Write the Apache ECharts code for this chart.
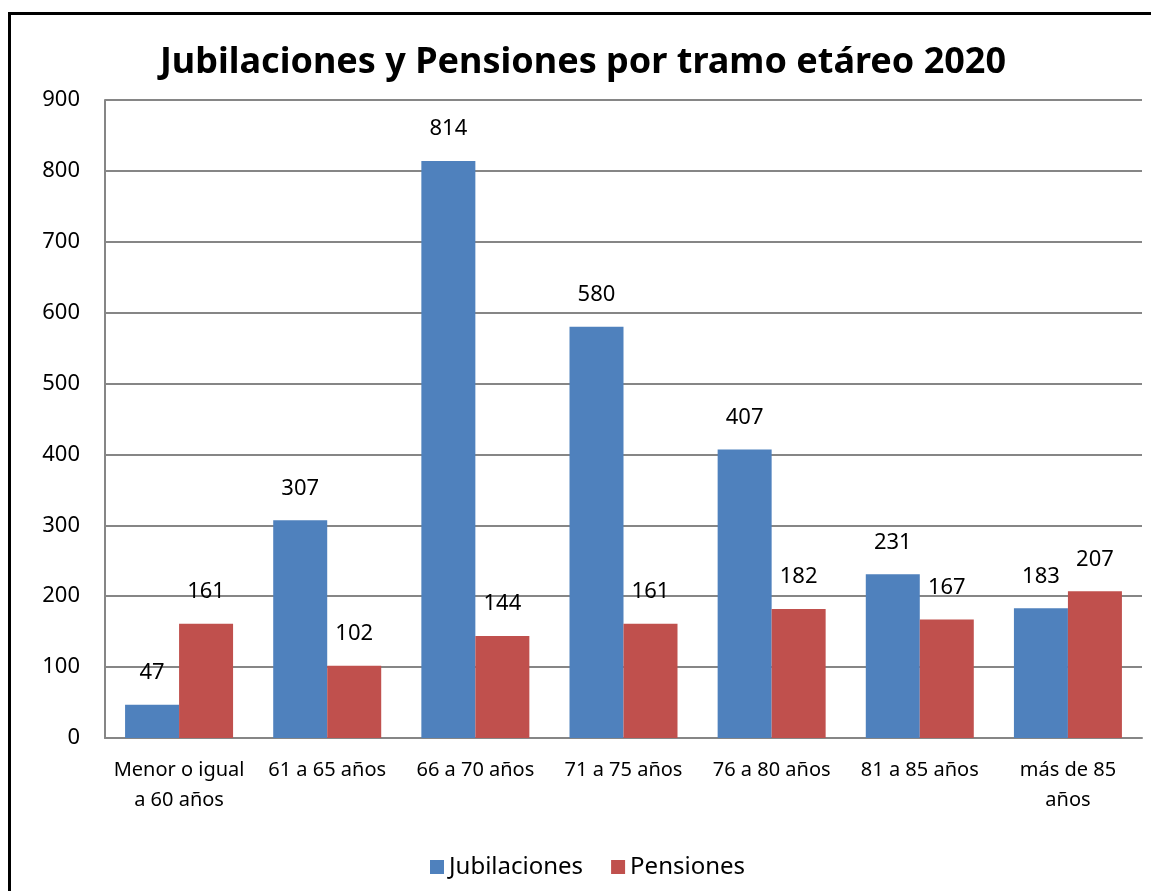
<!DOCTYPE html>
<html>
<head>
<meta charset="utf-8">
<script src="https://cdn.jsdelivr.net/npm/echarts@6/dist/echarts.min.js"></script>
<style>
  html, body { margin: 0; padding: 0; background: #fff; }
  #main { width: 1151px; height: 891px; }
</style>
</head>
<body>
<div id="main"></div>
<script>
// datos
const categorias = ['Menor o igual\na 60 años', '61 a 65 años', '66 a 70 años', '71 a 75 años', '76 a 80 años', '81 a 85 años', 'más de 85\naños']
const jubilaciones = [47, 307, 814, 580, 407, 231, 183]
const pensiones = [161, 102, 144, 161, 182, 167, 207]
const ticksY = [0, 100, 200, 300, 400, 500, 600, 700, 800, 900]

const fuente = 'Noto Sans'
const chart = echarts.init(document.getElementById('main'))

const etiqueta = {
  show: true,
  position: 'top',
  distance: 21,
  color: '#000',
  fontFamily: fuente,
  fontSize: 22
}

const option = {
  animation: false,
  textStyle: { fontFamily: fuente },
  // titulo y marco negro alrededor del grafico
  graphic: [
    {
      type: 'rect',
      shape: { x: 9.5, y: 13.5, width: 1160, height: 900 },
      style: { fill: 'none', stroke: '#000', lineWidth: 3 }
    },
    {
      type: 'text',
      x: 583,
      y: 63,
      style: {
        text: 'Jubilaciones y Pensiones por tramo etáreo 2020',
        fontFamily: fuente,
        fontSize: 36,
        fontWeight: 'bold',
        fill: '#000',
        align: 'center',
        verticalAlign: 'middle'
      }
    }
  ],
  legend: {
    bottom: 7,
    left: 425,
    itemWidth: 14,
    itemHeight: 14,
    itemGap: 28,
    icon: 'rect',
    textStyle: { fontFamily: fuente, fontSize: 24, color: '#000' },
    data: ['Jubilaciones', 'Pensiones']
  },
  grid: { left: 105, right: 9, top: 100, bottom: 153, containLabel: false },
  xAxis: {
    type: 'category',
    data: categorias,
    axisLine: { lineStyle: { color: '#868686', width: 2 } },
    axisTick: { show: false },
    axisLabel: { color: '#000', fontSize: 20, fontFamily: fuente, lineHeight: 30, margin: 17, interval: 0 }
  },
  yAxis: {
    type: 'value',
    min: ticksY[0],
    max: ticksY[ticksY.length - 1],
    interval: 100,
    axisLine: { show: true, lineStyle: { color: '#868686', width: 2 } },
    axisTick: { show: false },
    splitLine: { lineStyle: { color: '#868686', width: 2 } },
    axisLabel: { color: '#000', fontSize: 22, fontFamily: fuente, margin: 25 }
  },
  series: [
    {
      name: 'Jubilaciones',
      type: 'bar',
      data: jubilaciones,
      barWidth: 54,
      barGap: '0%',
      itemStyle: { color: '#4F81BD' },
      label: etiqueta
    },
    {
      name: 'Pensiones',
      type: 'bar',
      data: pensiones,
      barWidth: 54,
      itemStyle: { color: '#C0504D' },
      label: etiqueta
    }
  ]
}

chart.setOption(option)
</script>
</body>
</html>
